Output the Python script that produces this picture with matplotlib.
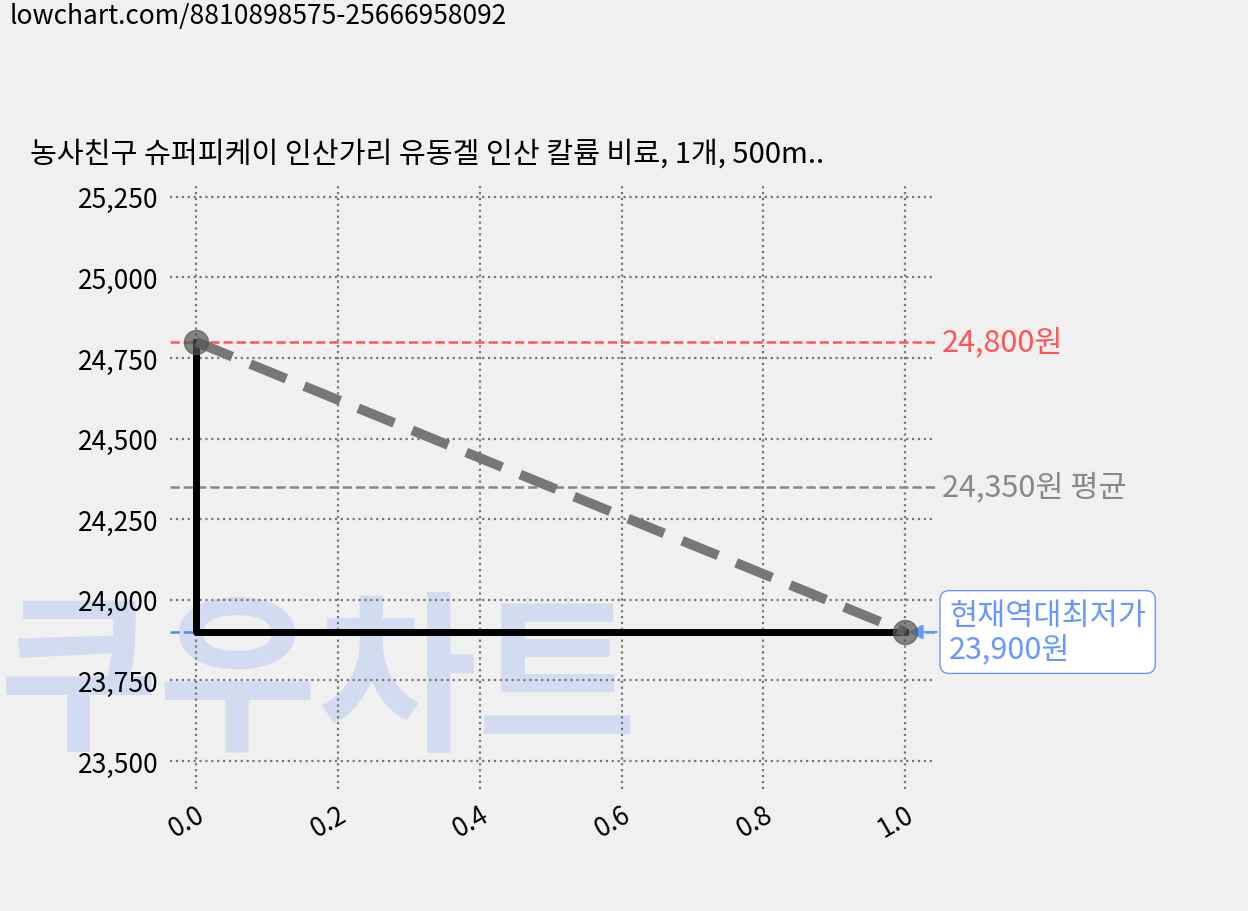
import matplotlib
matplotlib.use("Agg")
import matplotlib.pyplot as plt

plt.rcParams['font.family'] = ['Noto Sans CJK KR', 'DejaVu Sans']

x = [0.0, 1.0]
prices = [24800, 23900]
max_price = 24800
avg_price = 24350
min_price = 23900
title = "농사친구 슈퍼피케이 인산가리 유동겔 인산 칼륨 비료, 1개, 500m.."
url = "lowchart.com/8810898575-25666958092"

fig = plt.figure(figsize=(12.48, 9.12), dpi=100, facecolor='#f0f0f0')
ax = fig.add_axes([170/1248, 1-790/912, 765/1248, 605/912])
ax.set_facecolor('#f0f0f0')
for s in ax.spines.values():
    s.set_visible(False)

fig.text(0.008, 0.997, url, fontsize=19, va='top', ha='left')
fig.text(30/1248, 1-155/912, title, fontsize=21, va='center', ha='left')
ax.text(0.255, 1-685/912, "쿠우차트", transform=fig.transFigure, fontsize=125, fontweight='bold',
        color='#c8d4f0', alpha=0.75, ha='center', va='center', zorder=0)

ax.grid(True, linestyle=':', color='#777777', linewidth=1.6)
ax.set_axisbelow(True)

ax.plot([x[0], x[0], x[1]], [prices[0], prices[1], prices[1]], color='black', lw=5, zorder=3)
ax.plot(x, prices, color='#777777', lw=7, dashes=(4, 2), zorder=4)
ax.scatter(x, prices, s=300, color='#555555', alpha=0.7, zorder=5)

ax.axhline(max_price, color='#ff5555', ls='--', lw=1.8)
ax.axhline(avg_price, color='#888888', ls='--', lw=1.8)
ax.axhline(min_price, color='#5588ff', ls='--', lw=1.8)

ax.text(1.052, max_price, f"{max_price:,}원", color='#ff5555', fontsize=22, va='center')
ax.text(1.052, avg_price, f"{avg_price:,}원 평균", color='#888888', fontsize=22, va='center')
ax.annotate(f"현재역대최저가\n{min_price:,}원", xy=(1.0, min_price), xytext=(1.062, min_price),
            color='#6699ff', fontsize=22, va='center', linespacing=1.1,
            bbox=dict(boxstyle='round,pad=0.3', fc='white', ec='#6699ff'),
            arrowprops=dict(arrowstyle='-|>', color='#6699ff', lw=1.5))

ax.set_xlim(-0.037, 1.042)
ax.set_ylim(23413, 25290)
ax.set_xticks([0, 0.2, 0.4, 0.6, 0.8, 1.0])
ax.set_yticks(range(23500, 25251, 250))
ax.yaxis.set_major_formatter(matplotlib.ticker.FuncFormatter(lambda v, p: f"{int(v):,}"))
ax.tick_params(axis='both', labelsize=19, length=0, pad=8)
plt.setp(ax.get_xticklabels(), rotation=30, ha='right', rotation_mode='anchor')

fig.savefig("out.png", dpi=100, facecolor=fig.get_facecolor())
